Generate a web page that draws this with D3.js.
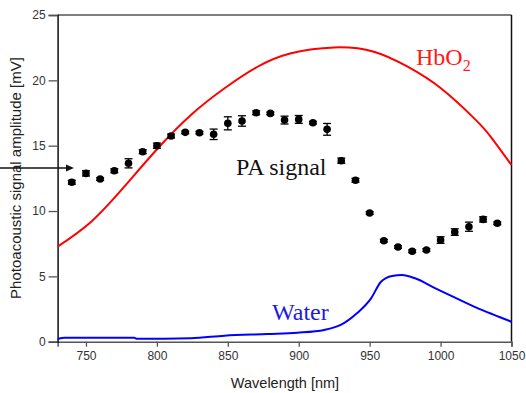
<!DOCTYPE html>
<html><head><meta charset="utf-8">
<script src="https://cdn.jsdelivr.net/npm/d3@7"></script>
<style>body{margin:0;background:#fff}svg{display:block}</style>
</head><body>
<svg id="c" width="526" height="393"></svg>
<script>
// Data
const paWavelength = [740,750,760,770,780,790,800,810,820,830,840,850,860,870,880,890,900,910,920,930,940,950,960,970,980,990,1000,1010,1020,1030,1040];
const paSignal = [12.2,12.88,12.45,13.08,13.65,14.54,15.0,15.74,16.02,15.99,15.87,16.71,16.89,17.52,17.47,16.96,17.01,16.76,16.25,13.85,12.35,9.85,7.73,7.25,6.92,7.02,7.78,8.39,8.8,9.36,9.06];
const paError = [0.15,0.2,0.1,0.15,0.35,0.15,0.2,0.15,0.1,0.1,0.4,0.5,0.4,0.15,0.1,0.3,0.3,0.1,0.45,0.2,0.15,0.1,0.1,0.1,0.1,0.1,0.25,0.25,0.35,0.2,0.1];
const hbo2Wavelength = [730,753.7,777,800.7,824,847.7,871,894.6,925,953,976.8,1000.2,1023.7,1035.4,1050];
const hbo2Values = [7.27,9.18,11.86,14.8,17.35,19.39,21.04,22.07,22.52,22.19,21.04,19.39,17.09,15.68,13.52];
const waterWavelength = [730,735,784,786,824,847.7,878,899,918,929.6,941,951,958,965.8,972.8,982,996.4,1012.8,1029,1041,1050];
const waterValues = [0.2,0.3,0.3,0.22,0.26,0.46,0.59,0.69,0.9,1.28,2.17,3.32,4.59,5.03,5.1,4.85,4.08,3.24,2.43,1.91,1.53];
const xTicks = [750,800,850,900,950,1000,1050];
const yTicks = [0,5,10,15,20,25];

const svg = d3.select('#c');
const x = d3.scaleLinear().domain([730,1050]).range([57.6,511.5]);
const y = d3.scaleLinear().domain([0,25]).range([341.7,15]);

// frame (top and right)
svg.append('line').attr('x1',x(730)).attr('x2',x(1050)).attr('y1',y(25)).attr('y2',y(25)).attr('stroke','#555').attr('stroke-width',1.5);
svg.append('line').attr('x1',x(1050)).attr('x2',x(1050)).attr('y1',y(25)).attr('y2',y(0)).attr('stroke','#111').attr('stroke-width',1.5);

// axes
const xAxis = svg.append('g').attr('transform',`translate(0,${y(0)})`)
  .call(d3.axisBottom(x).tickValues(xTicks).tickFormat(d3.format('d')).tickSizeOuter(0).tickSize(5).tickPadding(5));
xAxis.select('.domain').attr('stroke','#555').attr('stroke-width',1.5);
xAxis.selectAll('.tick line').attr('stroke','#555').attr('stroke-width',1.3);
xAxis.selectAll('text').attr('font-family','Arial, Liberation Sans, sans-serif').attr('font-size',12).attr('fill','#333');

const yAxis = svg.append('g').attr('transform',`translate(${x(730)},0)`)
  .call(d3.axisLeft(y).tickValues(yTicks).tickFormat(d3.format('d')).tickSizeOuter(0).tickSize(9).tickPadding(3));
yAxis.select('.domain').attr('stroke','#111').attr('stroke-width',1.5);
yAxis.selectAll('.tick line').attr('stroke','#555').attr('stroke-width',1.3);
yAxis.selectAll('text').attr('font-family','Arial, Liberation Sans, sans-serif').attr('font-size',12).attr('fill','#333');

// axis titles
svg.append('text').attr('x',285).attr('y',388).attr('text-anchor','middle')
  .attr('font-family','Arial, Liberation Sans, sans-serif').attr('font-size',14.5).attr('fill','#222')
  .text('Wavelength [nm]');
svg.append('text').attr('transform','translate(21,178) rotate(-90)').attr('text-anchor','middle')
  .attr('font-family','Arial, Liberation Sans, sans-serif').attr('font-size',15).attr('fill','#222')
  .text('Photoacoustic signal amplitude [mV]');

// curves
const lineHb = d3.line().x(d=>x(d[0])).y(d=>y(d[1])).curve(d3.curveNatural);
const lineW = d3.line().x(d=>x(d[0])).y(d=>y(d[1])).curve(d3.curveMonotoneX);
svg.append('path').attr('d',lineHb(d3.zip(hbo2Wavelength,hbo2Values)))
  .attr('fill','none').attr('stroke','#ff0000').attr('stroke-width',2);
svg.append('path').attr('d',lineW(d3.zip(waterWavelength,waterValues)))
  .attr('fill','none').attr('stroke','#0000ff').attr('stroke-width',2);

// error bars + points
const pts = paWavelength.map((w,i)=>({w,v:paSignal[i],e:paError[i]}));
const eb = svg.append('g').attr('stroke','#000').attr('stroke-width',1.3);
pts.forEach(p=>{
  eb.append('line').attr('x1',x(p.w)).attr('x2',x(p.w)).attr('y1',y(p.v+p.e)).attr('y2',y(p.v-p.e));
  eb.append('line').attr('x1',x(p.w)-4).attr('x2',x(p.w)+4).attr('y1',y(p.v+p.e)).attr('y2',y(p.v+p.e));
  eb.append('line').attr('x1',x(p.w)-4).attr('x2',x(p.w)+4).attr('y1',y(p.v-p.e)).attr('y2',y(p.v-p.e));
});
svg.append('g').selectAll('circle').data(pts).join('circle')
  .attr('cx',d=>x(d.w)).attr('cy',d=>y(d.v)).attr('r',3.8).attr('fill','#000');

// labels
const hb = svg.append('text').attr('x',416).attr('y',65).attr('font-family','Liberation Serif, Times New Roman, serif')
  .attr('font-size',24).attr('fill','#ff1a1a');
hb.append('tspan').text('HbO');
hb.append('tspan').attr('font-size',16).attr('dy',6).text('2');
svg.append('text').attr('x',236).attr('y',175).attr('font-family','Liberation Serif, Times New Roman, serif')
  .attr('font-size',24).attr('fill','#111').text('PA signal');
svg.append('text').attr('x',272).attr('y',320).attr('font-family','Liberation Serif, Times New Roman, serif')
  .attr('font-size',24).attr('fill','#1a1ae6').text('Water');

// arrow
svg.append('line').attr('x1',0).attr('x2',67).attr('y1',168).attr('y2',168).attr('stroke','#111').attr('stroke-width',1.5);
svg.append('path').attr('d','M66,164.5 L74,168 L66,171.5 Z').attr('fill','#111');
</script>
</body></html>
